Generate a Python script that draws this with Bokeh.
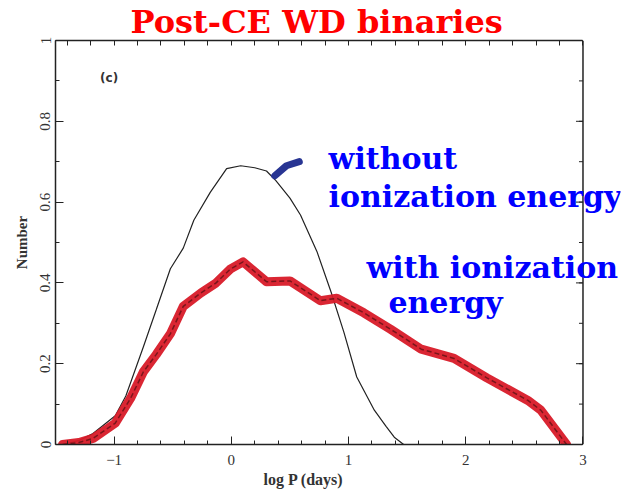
import numpy as np
from bokeh.plotting import figure
from bokeh.models import Label, LinearAxis, Range1d, FixedTicker, Span, Title
from bokeh.embed import file_html
from bokeh.resources import INLINE

# Data
logp_without = [-1.44, -1.30, -1.18, -0.99, -0.90, -0.75, -0.64, -0.52, -0.41, -0.32, -0.18,
                -0.04, 0.08, 0.20, 0.30, 0.38, 0.50, 0.59, 0.73, 0.85, 0.96, 1.07, 1.22, 1.32, 1.39,
                1.47, 2.0, 3.0]
num_without = [0.0, 0.010, 0.027, 0.071, 0.12, 0.242, 0.334, 0.435, 0.486, 0.555, 0.624,
               0.683, 0.69, 0.685, 0.677, 0.653, 0.61, 0.568, 0.478, 0.378, 0.278, 0.167, 0.085,
               0.045, 0.018, 0.0, 0.0, 0.0]

logp_with = [-1.44, -1.30, -1.18, -0.99, -0.86, -0.75, -0.64, -0.52, -0.41, -0.26, -0.13, -0.01,
             0.10, 0.30, 0.50, 0.76, 0.90, 1.13, 1.36, 1.62, 1.90, 2.18, 2.53, 2.64, 2.86]
num_with = [0.0, 0.005, 0.015, 0.053, 0.114, 0.18, 0.223, 0.274, 0.342, 0.375, 0.40, 0.434,
            0.452, 0.403, 0.405, 0.356, 0.362, 0.326, 0.285, 0.236, 0.213, 0.165, 0.109, 0.085, 0.0]

marker_x = [0.37, 0.47, 0.58]
marker_y = [0.665, 0.69, 0.70]

x_lo, x_hi = -1.5, 3.0
y_lo, y_hi = 0.0, 1.0
x_ticks = [-1, 0, 1, 2, 3]
x_minor = [v / 5 for v in range(-7, 16)]
y_ticks = [0, 0.2, 0.4, 0.6, 0.8, 1]
y_minor = [v / 10 for v in range(0, 11)]

title_text = "Post-CE WD binaries"
x_label = "log P (days)"
y_label = "Number"
panel_tag = "(c)"
note_without = ["without", "ionization energy"]
note_with = ["with ionization", "energy"]

frame_col = "#222222"

# frame extends a little past x_hi so the blue notes can overhang the right edge
p = figure(width=622, height=489, output_backend="svg", toolbar_location=None,
           x_range=Range1d(x_lo, 3.32), y_range=Range1d(y_lo, y_hi),
           min_border_left=55, min_border_right=2, min_border_top=0, min_border_bottom=45)

p.title.text = title_text
p.title.align = "left"
p.title.offset = 75
p.title.standoff = 0
p.title.text_color = "#ff0000"
p.title.text_font = "DejaVu Serif"
p.title.text_font_style = "bold"
p.title.text_font_size = "32px"

p.xgrid.visible = False
p.ygrid.visible = False
p.outline_line_color = None
p.background_fill_color = "white"
p.border_fill_color = "white"

for ax in (p.xaxis[0], p.yaxis[0]):
    ax.major_tick_in = 8
    ax.major_tick_out = 0
    ax.minor_tick_in = 4
    ax.minor_tick_out = 0
    ax.axis_line_color = frame_col
    ax.axis_line_width = 1.5
    ax.major_tick_line_color = frame_col
    ax.minor_tick_line_color = frame_col
    ax.major_label_text_font = "Liberation Serif"
    ax.major_label_text_font_size = "15px"
    ax.major_label_text_color = "#333333"
    ax.axis_label_text_font = "Liberation Serif"
    ax.axis_label_text_font_size = "15px"
    ax.axis_label_text_font_style = "bold"
    ax.axis_label_text_color = "#333333"

p.xaxis[0].bounds = (x_lo, x_hi)
p.xaxis[0].ticker = FixedTicker(ticks=x_ticks, minor_ticks=x_minor)
p.yaxis[0].ticker = FixedTicker(ticks=y_ticks, minor_ticks=y_minor)
p.yaxis[0].axis_label = y_label
p.yaxis[0].major_label_orientation = "vertical"
p.yaxis[0].axis_label_standoff = 8
p.xaxis[0].major_label_standoff = 10

# x-axis caption placed as a title below the axis, centred under the original plot box
p.add_layout(Title(text=x_label, align="left", offset=208, standoff=2,
                   text_font="Liberation Serif", text_font_size="16px",
                   text_font_style="bold", text_color="#333333"), "below")

# top edge: axis with only minor-style ticks (no labels)
top = LinearAxis(ticker=FixedTicker(ticks=[], minor_ticks=x_minor), bounds=(x_lo, x_hi),
                 minor_tick_in=5, minor_tick_out=0, axis_line_color=frame_col,
                 axis_line_width=1.5, minor_tick_line_color=frame_col)
p.add_layout(top, "above")

# right edge at x_hi with inward ticks
p.add_layout(Span(location=x_hi, dimension="height", line_color=frame_col, line_width=1.5))
p.ray(x=[x_hi] * len(y_ticks), y=y_ticks, length=7, length_units="screen", angle=np.pi,
      line_color=frame_col, line_width=1)
p.ray(x=[x_hi] * len(y_minor), y=y_minor, length=4, length_units="screen", angle=np.pi,
      line_color=frame_col, line_width=1)

# curves
p.line(logp_without, num_without, line_color="#222222", line_width=1.2)
p.line(logp_with, num_with, line_color="#d81a28", line_width=9, line_alpha=0.95,
       line_join="round", line_cap="round")
p.line(logp_with, num_with, line_color="#3a0a0a", line_width=1.5, line_alpha=0.6,
       line_dash="5 3")
p.line(marker_x, marker_y, line_color="#283593", line_width=7, line_cap="round")

p.add_layout(Label(x=-1.12, y=0.89, text=panel_tag, text_font="DejaVu Sans",
                   text_font_size="12px", text_color="#333333", text_font_style="bold"))

note_font = "DejaVu Serif"
note_size = "30px"
for x, y, t in [(0.83, 0.664, note_without[0]), (0.83, 0.571, note_without[1]),
                (1.153, 0.396, note_with[0]), (1.34, 0.308, note_with[1])]:
    p.add_layout(Label(x=x, y=y, text=t, text_font=note_font, text_font_style="bold",
                       text_font_size=note_size, text_color="#0000ff"))

open("out.html", "w").write(file_html(p, INLINE))
